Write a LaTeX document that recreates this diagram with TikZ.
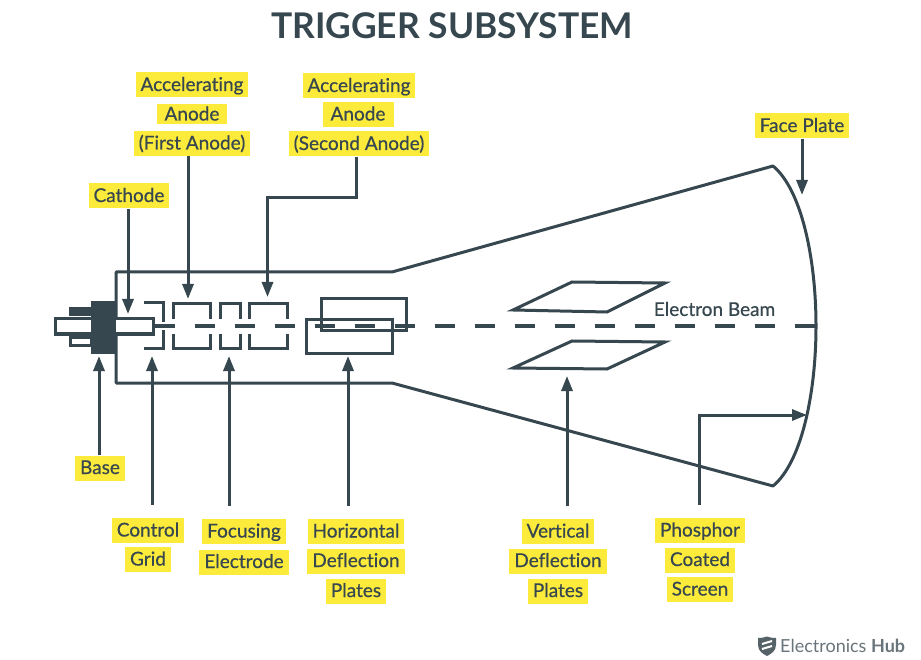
\documentclass[tikz,border=0pt]{standalone}
\usepackage{fontspec}
\setmainfont{Lato}
\newfontfamily\lblfont[FakeBold=0.6,Ligatures=CommonOff]{Lato}
\usetikzlibrary{arrows.meta,calc}
\definecolor{ink}{HTML}{37474F}
\definecolor{hl}{HTML}{FDEB3B}
\tikzset{
 lbl/.style={fill=hl,text=ink,font=\lblfont\fontsize{19}{19}\selectfont,minimum height=25pt,inner xsep=5pt,inner ysep=0pt,text height=15pt,text depth=3pt},
 wire/.style={draw=ink,line width=3pt},
 thin wire/.style={draw=ink,line width=3pt},
 arr/.style={draw=ink,line width=3pt,-{Triangle[length=15pt,width=11pt]}},
 beam/.style={draw=ink,line width=3.4pt,dash pattern=on 20pt off 20pt},
}
\begin{document}
\begin{tikzpicture}[x=1pt,y=-1pt]
\useasboundingbox[fill=white] (0,0) rectangle (921,660);
\node[text=ink,font=\bfseries\fontsize{35.4}{36}\selectfont] (title) at (452,25.5) {TRIGGER SUBSYSTEM};
% tube
\draw[wire,line join=round] (116,272) -- (392,272) -- (773,166) .. controls (802,190) and (816,260) .. (816,326) .. controls (816,392) and (802,462) .. (773,486) -- (392,383) -- (116,383) -- cycle;
% pin and base
\draw[thin wire,fill=white] (55,319) rectangle (153,334);
\draw[thin wire,fill=white] (70,337) rectangle (91,345);
\fill[ink] (69,307) rectangle (91,316);
\fill[ink] (91,301) rectangle (116,354);
% grid
\draw[thin wire] (144,303) -- (163,303) -- (163,322);
\draw[thin wire] (144,348) -- (163,348) -- (163,330);
% electrodes
\foreach \a/\b in {173/210,220/240,249/287}{
 \draw[thin wire] (\a,319) -- (\a,304) -- (\b,304) -- (\b,319);
 \draw[thin wire] (\a,334) -- (\a,348) -- (\b,348) -- (\b,334);
}
% horizontal plates
\draw[thin wire] (321,299) rectangle (406,331);
\draw[thin wire] (306,320) rectangle (392,353);
% vertical plates
\draw[thin wire,line join=miter] (513,310) -- (572,282) -- (665,283) -- (607,312) -- cycle;
\draw[thin wire,line join=miter] (513,368) -- (572,341) -- (665,342) -- (607,369) -- cycle;
% beam
\coordinate (beamA) at (155,326);
\coordinate (beamB) at (815,326);
\draw[beam] (beamA) -- (beamB);
\node[text=ink,font=\lblfont\fontsize{19}{19}\selectfont] (ebeam) at (714.5,309) {Electron Beam};
% labels
\node[lbl] (aa1) at (192,85) {Accelerating};
\node[lbl,minimum width=70pt,minimum height=20pt] (aa2) at (192,114.5) {Anode};
\node[lbl] (aa3) at (192,143.5) {(First Anode)};
\node[lbl] (ab1) at (359,86) {Accelerating};
\node[lbl,minimum width=71pt] (ab2) at (358,114.5) {Anode};
\node[lbl] (ab3) at (359,144) {(Second Anode)};
\node[lbl] (face) at (802,126) {Face Plate};
\node[lbl] (cath) at (129,196) {Cathode};
\node[lbl] (base) at (100,468) {Base};
\node[lbl] (cg1) at (148,530.5) {Control};
\node[lbl] (cg2) at (148,559.5) {Grid};
\node[lbl] (fe1) at (244,531.5) {Focusing};
\node[lbl] (fe2) at (244,562) {Electrode};
\node[lbl] (hd1) at (356,531.5) {Horizontal};
\node[lbl] (hd2) at (356,561) {Deflection};
\node[lbl] (hd3) at (356,591) {Plates};
\node[lbl] (vd1) at (558,531.5) {Vertical};
\node[lbl] (vd2) at (558,561) {Deflection};
\node[lbl] (vd3) at (558,591) {Plates};
\node[lbl] (ps1) at (700,530.5) {Phosphor};
\node[lbl] (ps2) at (700,560) {Coated};
\node[lbl] (ps3) at (700,589.5) {Screen};
% arrow targets
\coordinate (tCath) at (128,314);
\coordinate (tFirst) at (188,299);
\coordinate (tSecond) at (267.5,297);
\coordinate (tFace) at (802,195);
\coordinate (tBase) at (99,356);
\coordinate (tGrid) at (152,356);
\coordinate (tFocus) at (229,356);
\coordinate (tHoriz) at (348,356);
\coordinate (tVert) at (567,376);
\coordinate (tScreen) at (807,415);
\coordinate (bend1) at (356,198);
\coordinate (bend2) at (267.5,198);
\coordinate (bend3) at (699,415);
% arrows
\draw[arr] (cath.south -| tCath) -- (tCath);
\draw[arr] (aa3.south -| tFirst) -- (tFirst);
\draw[arr,line join=miter] (ab3.south -| bend1) -- (bend1) -- (bend2) -- (tSecond);
\draw[arr] (face.south -| tFace) -- (tFace);
\draw[arr] (base.north -| tBase) -- (tBase);
\draw[arr,shorten <=13pt] (cg1.north -| tGrid) -- (tGrid);
\draw[arr,shorten <=13pt] (fe1.north -| tFocus) -- (tFocus);
\draw[arr,shorten <=13pt] (hd1.north -| tHoriz) -- (tHoriz);
\draw[arr,shorten <=13pt] (vd1.north -| tVert) -- (tVert);
\draw[arr,line join=miter,shorten <=13pt] (ps1.north -| bend3) -- (bend3) -- (tScreen);
% logo
\begin{scope}[shift={(767,647)}]
\fill[ink!85] (-9,-9) .. controls (-4,-9) and (-2,-10) .. (0,-10.5) .. controls (2,-10) and (4,-9) .. (9,-9) -- (9,-2) .. controls (9,4) and (4,7) .. (0,9) .. controls (-4,7) and (-9,4) .. (-9,-2) -- cycle;
\draw[white,line width=2pt] (-5,-3) -- (5,-6);
\draw[white,line width=2pt] (-5,2) -- (5,-1);
\end{scope}
\node[anchor=west,inner sep=0pt,text=ink!75,font=\fontsize{18}{18}\selectfont] (logo) at (780,646) {Electronics \textbf{Hub}};
\end{tikzpicture}
\end{document}
